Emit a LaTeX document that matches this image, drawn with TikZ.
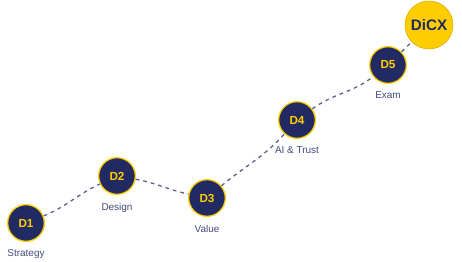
\documentclass[tikz,border=0pt]{standalone}
\usepackage{fontspec}
\setmainfont{Liberation Sans}
\usepackage{tikz}
\usetikzlibrary{positioning}

\definecolor{navy}{HTML}{212A62}
\definecolor{gold}{HTML}{FFCD00}
\definecolor{trail}{HTML}{5B6285}

\tikzset{
  dnode/.style={circle,draw=gold,line width=1.1pt,fill=navy,minimum size=1.1cm,inner sep=0pt,
    text=gold,font=\fontsize{10}{11}\selectfont\bfseries},
  goalnode/.style={circle,draw=gold!85!black,line width=0.5pt,fill=gold,minimum size=1.44cm,inner sep=0pt,
    text=navy,font=\fontsize{13}{14}\selectfont\bfseries},
  steplabel/.style={text=navy!85,font=\fontsize{8.5}{9}\selectfont,inner sep=0pt},
  trailline/.style={draw=trail,line width=1.1pt,dash pattern=on 3.2pt off 3.4pt}
}

\begin{document}
\begin{tikzpicture}[x=0.03cm,y=-0.03cm]
\useasboundingbox (0,0) rectangle (462,262);
\foreach \n/\x/\y/\t in {d1/26/223/Strategy, d2/117/176/Design, d3/207/198/Value,
                         d4/297/120/AI \& Trust, d5/388/65/Exam} {
  \node[dnode] (\n) at (\x,\y) {\MakeUppercase{\n}};
  \node[steplabel,below=6.5pt of \n] (\n-lbl) {\t};
}
\node[goalnode] (dicx) at (429,25) {DiCX};
% path between the steps
\draw[trailline] (d1) to[out=22,in=205] (d2);
\draw[trailline] (d2) to[out=-10,in=168] (d3);
\draw[trailline] (d3) to[out=40,in=228] (d4);
\draw[trailline] (d4) to[out=36,in=218] (d5);
\draw[trailline] (d5) -- (dicx);
\end{tikzpicture}
\end{document}
